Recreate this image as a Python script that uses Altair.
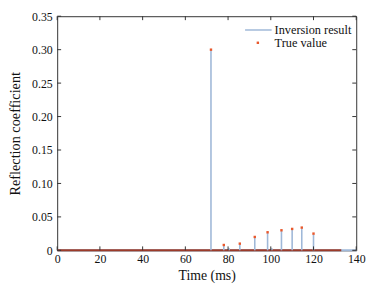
import altair as alt
import pandas as pd

# spike times (ms)
spike_times = [72, 78, 80.5, 85.5, 92.5, 98.5, 100.5, 105, 110, 114.5, 120]
inversion_values = [0.300, 0.007, 0.003, 0.009, 0.019, 0.026, 0.003, 0.029, 0.031, 0.033, 0.024]
true_values = [0.300, 0.008, None, 0.010, 0.020, 0.027, None, 0.030, 0.032, 0.034, 0.025]

# zero-valued stretches of each series
inversion_zero_span = [0, 140]
true_zero_span = [0, 133]

x_ticks = [0, 20, 40, 60, 80, 100, 120, 140]
y_ticks = [0, 0.05, 0.10, 0.15, 0.20, 0.25, 0.30, 0.35]

FONT = "Liberation Serif"
BLUE = "#9fb8d8"
RED = "#e8582c"
BASE_RED = "#9c3b2a"
FRAME = "#333333"

W, H = 304, 238

df = pd.DataFrame({"time": spike_times, "inv": inversion_values, "true": true_values})
df_inv_span = pd.DataFrame({"a": [inversion_zero_span[0]], "b": [inversion_zero_span[1]], "z": [0]})
df_true_span = pd.DataFrame({"a": [true_zero_span[0]], "b": [true_zero_span[1]], "z": [0]})
df_true = df.dropna(subset=["true"])
df_xt = pd.DataFrame({"t": x_ticks})
df_yt = pd.DataFrame({"t": y_ticks})

xs = alt.Scale(domain=[0, 140], nice=False, zero=False)
ys = alt.Scale(domain=[0, 0.35], nice=False)

x_axis = alt.Axis(values=x_ticks, ticks=False, domain=False, grid=False, labelPadding=3,
                  labelOverlap=False, labelFlush=False, title="Time (ms)", titlePadding=5,
                  titleFontSize=14)
y_axis = alt.Axis(values=y_ticks, ticks=False, domain=False, grid=False, labelPadding=5,
                  labelOverlap=False, labelFlush=False, labelBaseline="middle",
                  labelExpr="datum.value == 0 ? '0' : format(datum.value, '.2f')",
                  title="Reflection coefficient", titlePadding=9, titleFontSize=14.5)

inv_base = alt.Chart(df_inv_span).mark_rule(color=BLUE, strokeWidth=2).encode(
    x=alt.X("a:Q", scale=xs, axis=x_axis),
    x2="b:Q",
    y=alt.Y("z:Q", scale=ys, axis=y_axis),
)
true_base = alt.Chart(df_true_span).mark_rule(color=BASE_RED, strokeWidth=2).encode(
    x=alt.X("a:Q", scale=xs, axis=x_axis), x2="b:Q", y=alt.Y("z:Q", scale=ys, axis=y_axis)
)
stems = alt.Chart(df).mark_rule(color=BLUE, strokeWidth=1.6).encode(
    x=alt.X("time:Q", scale=xs, axis=x_axis),
    y=alt.Y("inv:Q", scale=ys, axis=y_axis),
    y2=alt.datum(0),
)
dots = alt.Chart(df_true).mark_point(filled=True, shape="square", size=6, color=RED, opacity=1).encode(
    x=alt.X("time:Q", scale=xs, axis=x_axis),
    y=alt.Y("true:Q", scale=ys, axis=y_axis),
)

# inward tick marks on all four sides of the frame
tk = dict(color=FRAME, strokeWidth=1, opacity=1)
ticks_b = alt.Chart(df_xt).mark_rule(**tk).encode(
    x=alt.X("t:Q", scale=xs, axis=x_axis), y=alt.value(H), y2=alt.value(H - 4))
ticks_t = alt.Chart(df_xt).mark_rule(**tk).encode(
    x=alt.X("t:Q", scale=xs, axis=x_axis), y=alt.value(0), y2=alt.value(4))
ticks_l = alt.Chart(df_yt).mark_rule(**tk).encode(
    y=alt.Y("t:Q", scale=ys, axis=y_axis), x=alt.value(0), x2=alt.value(4))
ticks_r = alt.Chart(df_yt).mark_rule(**tk).encode(
    y=alt.Y("t:Q", scale=ys, axis=y_axis), x=alt.value(W), x2=alt.value(W - 4))

# legend (drawn manually)
leg_line = alt.Chart(df_inv_span).mark_rule(color=BLUE, strokeWidth=1.5).encode(
    x=alt.value(191), x2=alt.value(218), y=alt.value(14)
)
leg_dot = alt.Chart(df_inv_span).mark_point(filled=True, shape="square", size=6, color=RED, opacity=1).encode(
    x=alt.value(204), y=alt.value(27)
)
leg_t1 = alt.Chart(df_inv_span).mark_text(align="left", baseline="middle", font=FONT, fontSize=12.5,
                                          color="#111").encode(
    x=alt.value(221), y=alt.value(14), text=alt.value("Inversion result")
)
leg_t2 = alt.Chart(df_inv_span).mark_text(align="left", baseline="middle", font=FONT, fontSize=12.5,
                                          color="#111").encode(
    x=alt.value(221), y=alt.value(27), text=alt.value("True value")
)

chart = alt.layer(
    inv_base, true_base, stems, dots, ticks_b, ticks_t, ticks_l, ticks_r,
    leg_line, leg_dot, leg_t1, leg_t2
).properties(
    width=W, height=H,
    autosize=alt.AutoSizeParams(type="none"),
    padding={"left": 50, "top": 6, "right": 14, "bottom": 40},
).configure_view(
    stroke=FRAME, strokeWidth=1
).configure_axis(
    labelFont=FONT, titleFont=FONT, labelFontSize=12,
    labelColor="#111", titleColor="#111", titleFontWeight="normal",
    labelOverlap=False, labelFlush=False,
)

chart.save("out.html", embed_options={"renderer": "svg", "actions": False})
